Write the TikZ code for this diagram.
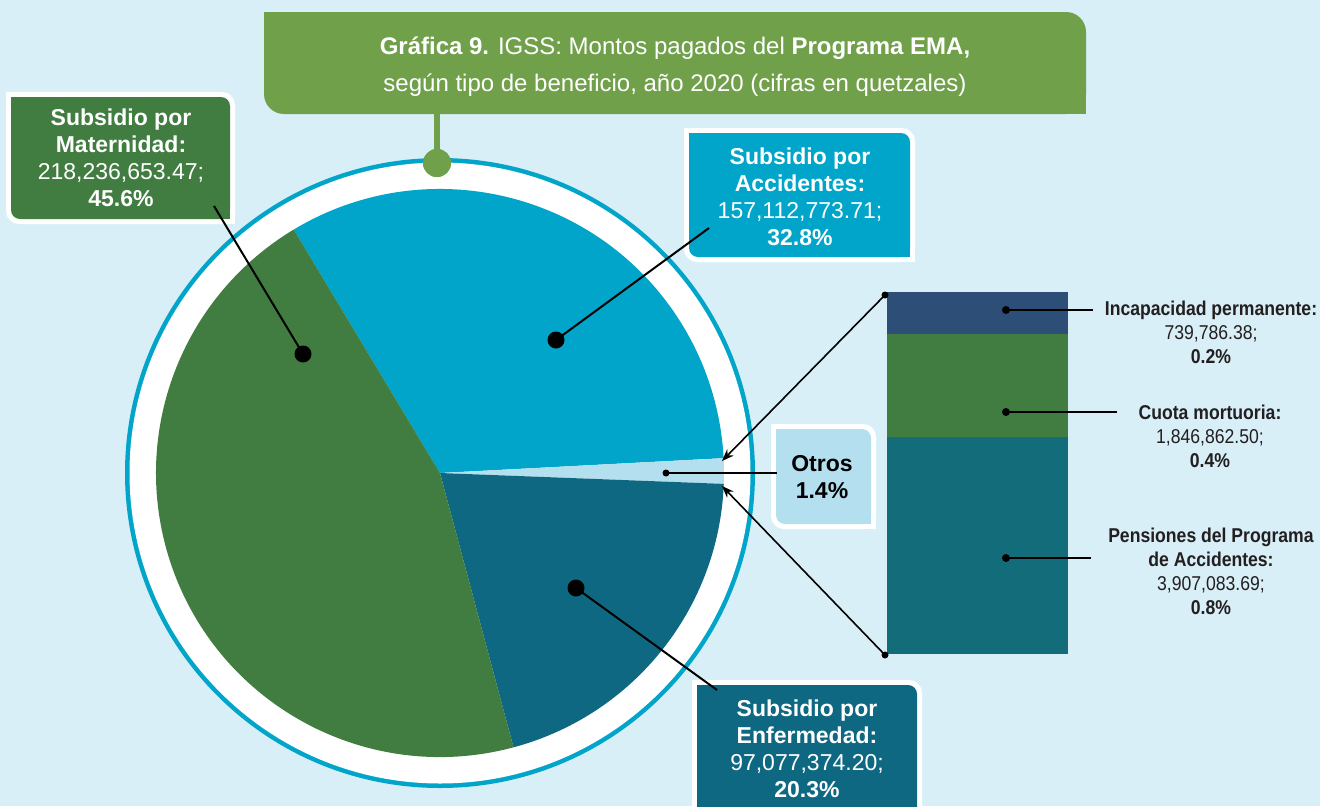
\documentclass[tikz,border=0pt]{standalone}
\usepackage{fontspec}
\setmainfont{Liberation Sans}
\newfontfamily\narrowfont[FakeStretch=0.88]{Liberation Sans}
\usetikzlibrary{arrows.meta}
\definecolor{bgc}{HTML}{D8EFF7}
\definecolor{titlegreen}{HTML}{70A04A}
\definecolor{matc}{HTML}{417D41}
\definecolor{accc}{HTML}{00A5C9}
\definecolor{enfc}{HTML}{0F6882}
\definecolor{otrc}{HTML}{B3DFEE}
\definecolor{incc}{HTML}{2D4E77}
\definecolor{cuoc}{HTML}{417D41}
\definecolor{penc}{HTML}{136C7A}
\definecolor{darktext}{HTML}{231F20}
\newcommand{\calloutbg}[5]{%
  \fill[white, rounded corners=13] (#1,#2) rectangle (#3,#4);
  \fill[white] (#1,#2) rectangle (#1+15,#2+15);
  \fill[white] (#3-15,#4-15) rectangle (#3,#4);
  \fill[#5, rounded corners=9] (#1+5,#2+5) rectangle (#3-5,#4-5);
  \fill[#5] (#1+5,#2+5) rectangle (#1+20,#2+20);
  \fill[#5] (#3-20,#4-20) rectangle (#3-5,#4-5);
}
\tikzset{
  lbl/.style={align=center, inner sep=0pt, font=\fontsize{23}{27}\selectfont, text=white},
  blbl/.style={align=center, inner sep=0pt, font=\narrowfont\fontsize{20}{24}\selectfont, text=darktext},
  bigdot/.style={circle, fill=black, inner sep=0pt, minimum size=17pt},
  smalldot/.style={circle, fill=black, inner sep=0pt, minimum size=7pt},
  conn/.style={line width=2pt, black},
  arr/.style={line width=1.6pt, black, -{Stealth[length=12pt, width=9pt]}},
}
\begin{document}
\begin{tikzpicture}[x=1pt,y=-1pt]
\useasboundingbox (0,0) rectangle (1320,806);
\fill[bgc] (0,0) rectangle (1320,806);

% title box
\fill[titlegreen, rounded corners=20] (264,12) rectangle (1086,114);
\fill[titlegreen] (264,12) rectangle (300,50);
\fill[titlegreen] (1050,80) rectangle (1086,114);
\node[align=center, inner sep=0pt, text=white, font=\fontsize{24}{37}\selectfont] (ttl) at (675,67)
  {\textbf{Gráfica 9.} IGSS: Montos pagados del \textbf{Programa EMA,}\\según tipo de beneficio, año 2020 (cifras en quetzales)};

% ring
\fill[accc] (440,473) circle[radius=315];
\fill[white] (440,473) circle[radius=310.5];

% pie
\begin{scope}[shift={(440,473)}, x=1pt, y=1pt]
  \fill[accc] (0,0) -- (121:284) arc[start angle=121, end angle=3, radius=284] -- cycle;
  \fill[otrc] (0,0) -- (3:284) arc[start angle=3, end angle=-2.2, radius=284] -- cycle;
  \fill[enfc] (0,0) -- (-2.2:284) arc[start angle=-2.2, end angle=-75, radius=284] -- cycle;
  \fill[matc] (0,0) -- (-75:284) arc[start angle=-75, end angle=-239, radius=284] -- cycle;
\end{scope}

% title stem and dot
\coordinate (stemtop) at (437,113);
\node[circle, fill=titlegreen, inner sep=0pt, minimum size=28pt] (tdot) at (437,163) {};
\draw[titlegreen, line width=6pt] (stemtop) -- (tdot.center);
\node[circle, fill=titlegreen, inner sep=0pt, minimum size=28pt] at (tdot) {};

% callout boxes
\calloutbg{6}{92}{235}{224}{matc}
\calloutbg{684}{128}{915}{262}{accc}
\calloutbg{692}{680}{922}{840}{enfc}
\calloutbg{771}{424}{876}{529}{otrc}

\node[lbl] (tmat) at (121,158) {\textbf{Subsidio por}\\\textbf{Maternidad:}\\218,236,653.47;\\\textbf{45.6\%}};
\node[lbl] (tacc) at (800,197) {\textbf{Subsidio por}\\\textbf{Accidentes:}\\157,112,773.71;\\\textbf{32.8\%}};
\node[lbl] (tenf) at (807,749) {\textbf{Subsidio por}\\\textbf{Enfermedad:}\\97,077,374.20;\\\textbf{20.3\%}};
\node[lbl, text=black] (totr) at (822,477) {\textbf{Otros}\\\textbf{1.4\%}};

% pie dots and connectors
\node[bigdot] (dmat) at (303,354) {};
\node[bigdot] (dacc) at (556,340) {};
\node[bigdot] (denf) at (576,588) {};
\node[smalldot] (dotr) at (666,473) {};
\coordinate (emat) at (214,206);
\coordinate (eacc) at (709,228);
\coordinate (eenf) at (717,690);
\coordinate (eotr) at (777,473);
\draw[conn] (dmat.center) -- (emat);
\draw[conn] (dacc.center) -- (eacc);
\draw[conn] (denf.center) -- (eenf);
\draw[conn] (dotr.center) -- (eotr);

% bar
\fill[penc] (887,437) rectangle (1068,654);
\fill[cuoc] (887,334) rectangle (1068,437);
\fill[incc] (887,292) rectangle (1068,334);

% arrows from bar corners
\node[smalldot] (btop) at (885,295) {};
\node[smalldot] (bbot) at (885,655) {};
\coordinate (ptop) at (722,461);
\coordinate (pbot) at (722,486);
\draw[arr] (btop.center) -- (ptop);
\draw[arr] (bbot.center) -- (pbot);

% bar labels
\node[smalldot, minimum size=8pt] (dinc) at (1006,310) {};
\node[smalldot, minimum size=8pt] (dcuo) at (1006,412) {};
\node[smalldot, minimum size=8pt] (dpen) at (1006,558) {};
\coordinate (einc) at (1093,310);
\coordinate (ecuo) at (1117,412);
\coordinate (epen) at (1091,558);
\draw[conn, line width=1.6pt] (dinc.center) -- (einc);
\draw[conn, line width=1.6pt] (dcuo.center) -- (ecuo);
\draw[conn, line width=1.6pt] (dpen.center) -- (epen);

\node[blbl] (tinc) at (1211,332) {\textbf{Incapacidad permanente:}\\739,786.38;\\\textbf{0.2\%}};
\node[blbl] (tcuo) at (1210,436) {\textbf{Cuota mortuoria:}\\1,846,862.50;\\\textbf{0.4\%}};
\node[blbl] (tpen) at (1211,571) {\textbf{Pensiones del Programa}\\\textbf{de Accidentes:}\\3,907,083.69;\\\textbf{0.8\%}};
\end{tikzpicture}
\end{document}
